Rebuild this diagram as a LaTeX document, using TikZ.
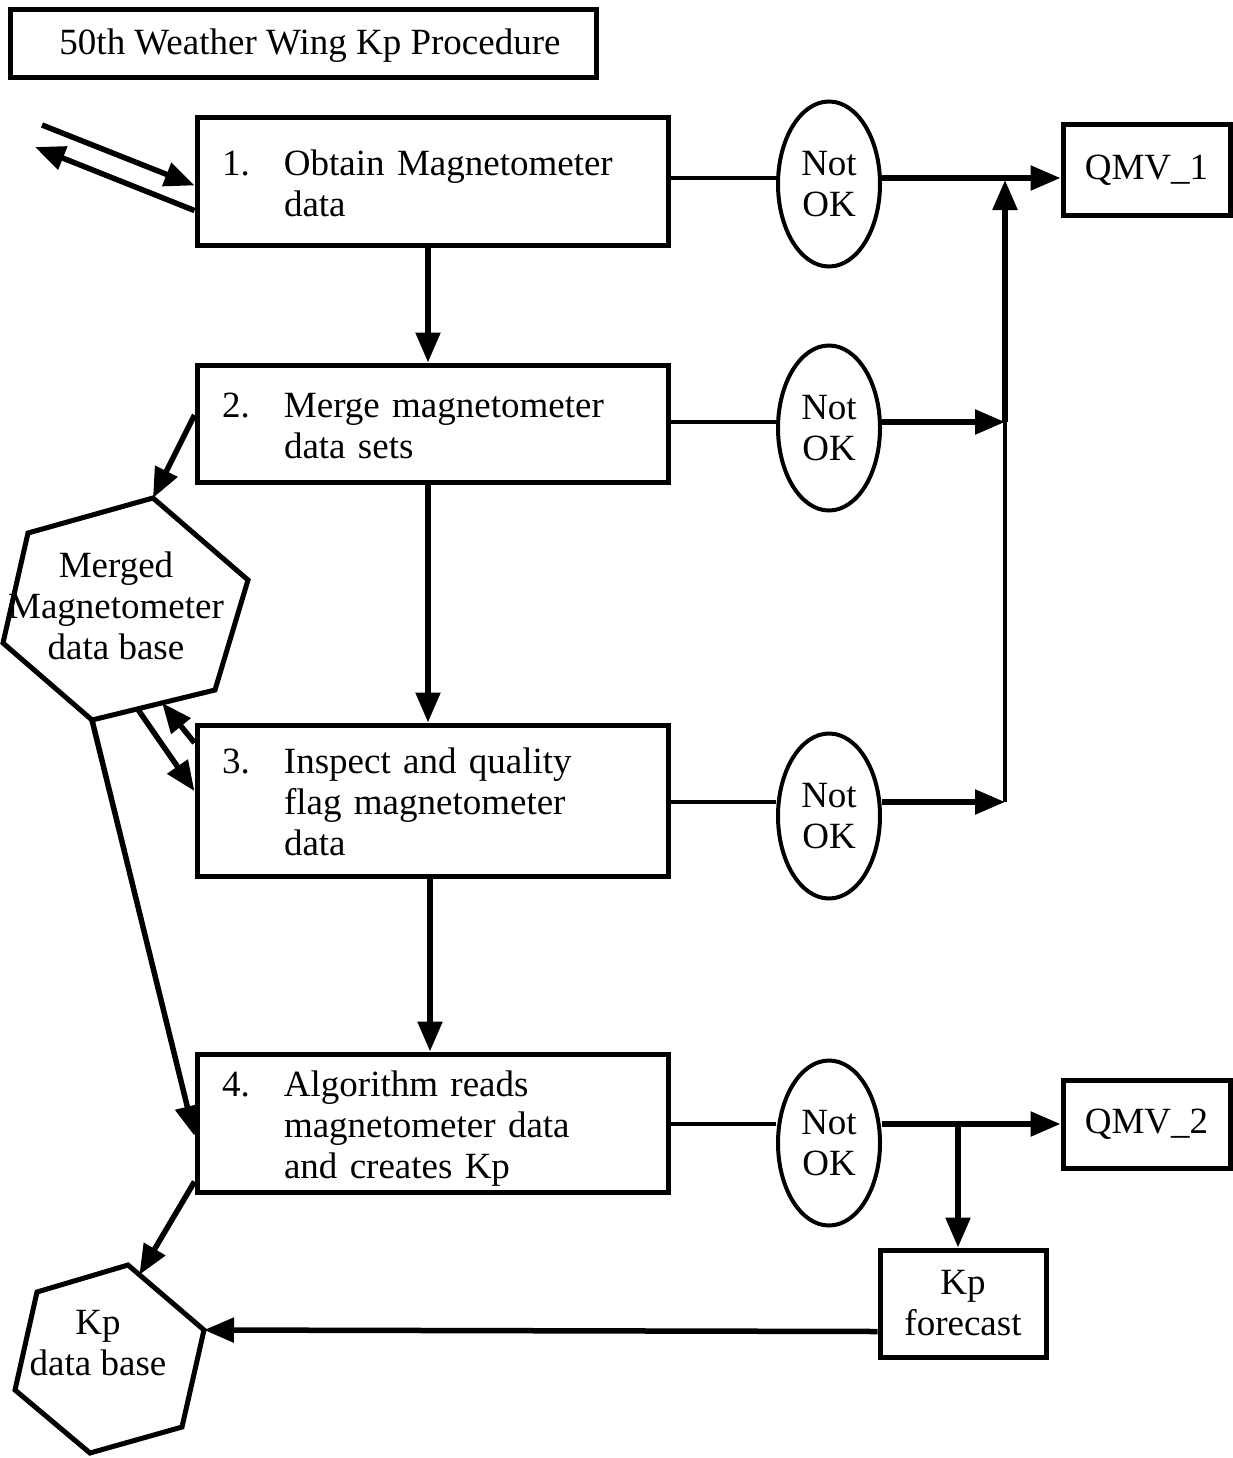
\documentclass[tikz,border=0pt]{standalone}
\usepackage{fontspec}
\setmainfont{Liberation Serif}
\usetikzlibrary{shapes.geometric,arrows.meta,calc}
\tikzset{
  x=1pt,y=-1pt,
  every node/.style={font=\fontsize{37}{41}\selectfont},
  stepbox/.style={draw,line width=5pt,rectangle,inner ysep=0pt,inner xsep=25pt,text width=421pt,align=left},
  plainbox/.style={draw,line width=5pt,rectangle,inner sep=0pt,align=center},
  notok/.style={draw,line width=4pt,ellipse,inner sep=0pt,minimum width=102pt,minimum height=165pt,align=center},
  link/.style={line width=4.5pt},
  arr/.style={line width=5.5pt,-{Triangle[length=30pt,width=24pt]}},
  hexline/.style={line width=5pt,line join=miter},
}
\newcommand{\steptext}[1]{\raisebox{-6pt}[\height][\depth]{\begin{tabular}{@{}p{62pt}@{}l@{}}#1\end{tabular}}}
\begin{document}
\begin{tikzpicture}
\useasboundingbox (0,0) rectangle (1233,1458);
% title
\node[plainbox,minimum width=586pt,minimum height=68pt] (title) at (303,44) {\hspace*{14pt}\raisebox{-2pt}[\height][\depth]{50th Weather Wing Kp Procedure}};
% process boxes
\node[stepbox,minimum height=127pt] (b1) at (432.5,181.5) {\steptext{1. & Obtain Magnetometer\\ & data}};
\node[stepbox,minimum height=117pt] (b2) at (432.5,423.5) {\steptext{2. & Merge magnetometer\\ & data sets}};
\node[stepbox,minimum height=151pt] (b3) at (432.5,800.5) {\steptext{3. & Inspect and quality\\ & flag magnetometer\\ & data}};
\node[stepbox,minimum height=138pt] (b4) at (432.5,1123) {\steptext{4. & Algorithm reads\\ & magnetometer data\\ & and creates Kp}};
% Not OK ellipses
\node[notok] (e1) at (829,184) {Not\\OK};
\node[notok] (e2) at (829,428) {Not\\OK};
\node[notok] (e3) at (829,816) {Not\\OK};
\node[notok] (e4) at (829,1143) {Not\\OK};
% outputs
\node[plainbox,minimum width=167pt,minimum height=90pt] (q1) at (1146.5,170) {QMV\_1};
\node[plainbox,minimum width=167pt,minimum height=88pt] (q2) at (1146.5,1124) {QMV\_2};
\node[plainbox,minimum width=166pt,minimum height=107pt] (kf) at (963,1303.5) {Kp\\forecast};
% merged hexagon
\coordinate (m1) at (153,498);
\coordinate (m2) at (248,580);
\coordinate (m3) at (215,690);
\coordinate (m4) at (92,720);
\coordinate (m5) at (3,643);
\coordinate (m6) at (28,533);
\draw[hexline] (m1)--(m2)--(m3)--(m4)--(m5)--(m6)--cycle;
\node[align=center,inner sep=0pt] (mdb) at (116,606) {Merged\\Magnetometer\\data base};
% Kp hexagon
\coordinate (k1) at (128,1265);
\coordinate (k2) at (204,1330);
\coordinate (k3) at (182,1427);
\coordinate (k4) at (90,1453);
\coordinate (k5) at (15,1390);
\coordinate (k6) at (37,1292);
\draw[hexline] (k1)--(k2)--(k3)--(k4)--(k5)--(k6)--cycle;
\node[align=center,inner sep=0pt] (kdb) at (98,1343) {Kp\\data base};
% external in/out
\coordinate (inA) at (42,125);
\coordinate (outA) at (35,147);
\draw[arr] (inA) -- ($(b1.north west)!0.53!(b1.south west)$);
\draw[arr] ($(b1.north west)!0.72!(b1.south west)$) -- (outA);
% main flow
\draw[arr] (b1.south -| 428,0) -- (b2.north -| 428,0);
\draw[arr] (b2.south -| 428,0) -- (b3.north -| 428,0);
\draw[arr] (b3.south -| 430,0) -- (b4.north -| 430,0);
% Not OK paths
\coordinate (jx) at (1005,0);
\draw[link] (b1.east |- 0,178) -- (e1.west |- 0,178);
\draw[arr] (e1.east |- 0,178) -- (q1.west |- 0,178);
\draw[link] (b2.east |- 0,422) -- (e2.west |- 0,422);
\draw[arr] (e2.east |- 0,422) -- (jx |- 0,422);
\draw[link] (b3.east |- 0,802) -- (e3.west |- 0,802);
\draw[arr] (e3.east |- 0,802) -- (jx |- 0,802);
\draw[link] (jx |- 0,802) -- (jx |- 0,422);
\draw[arr,shorten >=2pt] (jx |- 0,422) -- (jx |- 0,178);
\draw[link] (b4.east |- 0,1124) -- (e4.west |- 0,1124);
\draw[arr] (e4.east |- 0,1124) -- (q2.west |- 0,1124);
\draw[arr] (958,1124) -- (kf.north -| 958,0);
% data base links
\draw[arr] ($(b2.north west)!0.43!(b2.south west)$) -- (m1);
\draw[arr] ($(m4)!0.37!(m3)$) -- ($(b3.north west)!0.44!(b3.south west)$);
\draw[arr] ($(b3.north west)!0.13!(b3.south west)$) -- ($(m4)!0.57!(m3)$);
\draw[arr] (m4) -- ($(b4.north west)!0.59!(b4.south west)$);
\draw[arr] ($(b4.north west)!0.91!(b4.south west)$) -- ($(k1)!0.15!(k2)$);
\draw[arr] ($(kf.south west)!0.25!(kf.north west)$) -- (k2);
\end{tikzpicture}
\end{document}
